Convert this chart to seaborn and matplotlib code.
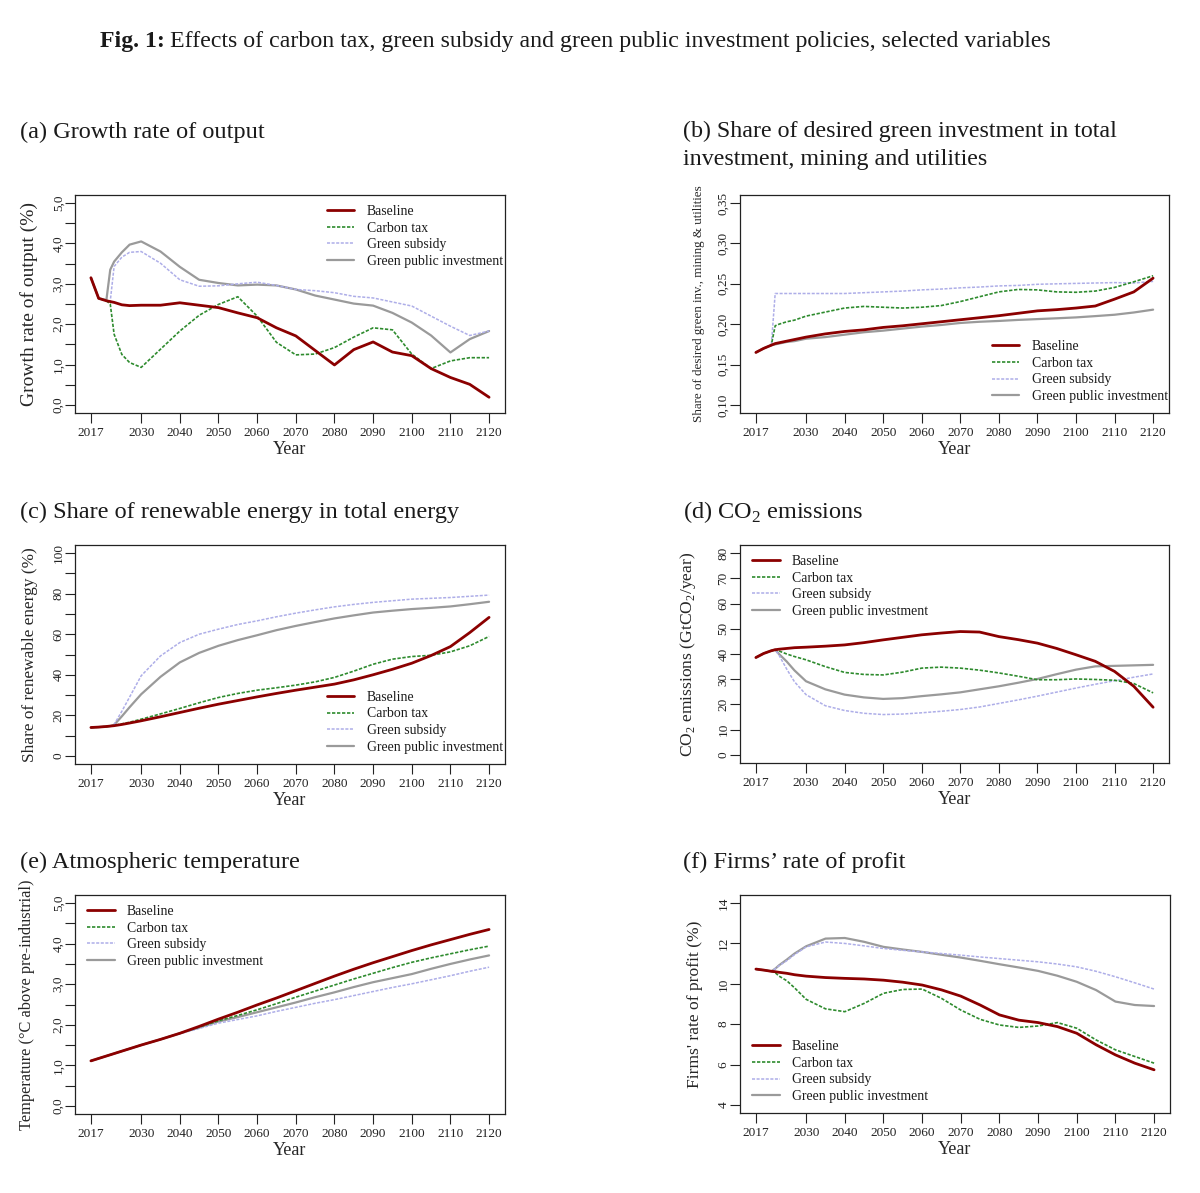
import matplotlib
matplotlib.use("Agg")
import matplotlib.pyplot as plt
import seaborn as sns

# Years sampled from the curves
years = [2017, 2019, 2021, 2022, 2023, 2025, 2027, 2030, 2035, 2040, 2045, 2050, 2055,
         2060, 2065, 2070, 2075, 2080, 2085, 2090, 2095, 2100, 2105, 2110, 2115, 2120]
year_ticks = [2017, 2030, 2040, 2050, 2060, 2070, 2080, 2090, 2100, 2110, 2120]
scenarios = ["Baseline", "Carbon tax", "Green subsidy", "Green public investment"]

# (a) growth rate of output (%)
growth_base = [3.15, 2.64, 2.58, 2.56, 2.54, 2.48, 2.46, 2.47, 2.47, 2.53, 2.47, 2.41, 2.28,
               2.16, 1.91, 1.71, 1.35, 0.99, 1.37, 1.56, 1.31, 1.22, 0.90, 0.68, 0.51, 0.19]
growth_tax = [3.15, 2.64, 2.58, 2.50, 1.75, 1.25, 1.05, 0.93, 1.38, 1.83, 2.22, 2.49, 2.68,
              2.20, 1.55, 1.24, 1.26, 1.42, 1.68, 1.91, 1.86, 1.26, 0.90, 1.09, 1.17, 1.17]
growth_sub = [3.15, 2.64, 2.58, 2.57, 3.43, 3.66, 3.78, 3.80, 3.51, 3.10, 2.94, 2.95, 3.00,
              3.04, 2.96, 2.86, 2.83, 2.78, 2.69, 2.65, 2.55, 2.45, 2.20, 1.95, 1.72, 1.83]
growth_gpi = [3.15, 2.64, 2.60, 3.35, 3.55, 3.78, 3.97, 4.05, 3.80, 3.42, 3.10, 3.02, 2.96,
              2.98, 2.96, 2.86, 2.71, 2.61, 2.51, 2.46, 2.28, 2.04, 1.72, 1.30, 1.63, 1.83]

# (b) share of desired green investment
share_base = [0.165, 0.170, 0.174, 0.176, 0.177, 0.179, 0.181, 0.184, 0.188, 0.191, 0.193, 0.196, 0.198,
              0.2005, 0.203, 0.2055, 0.208, 0.2105, 0.2135, 0.2165, 0.218, 0.220, 0.2225, 0.231, 0.240, 0.257]
share_tax = [0.165, 0.170, 0.174, 0.198, 0.200, 0.203, 0.205, 0.210, 0.215, 0.220, 0.222, 0.221, 0.220,
             0.221, 0.223, 0.228, 0.234, 0.240, 0.243, 0.2425, 0.240, 0.2395, 0.241, 0.2455, 0.2525, 0.260]
share_sub = [0.165, 0.170, 0.174, 0.238, 0.238, 0.238, 0.238, 0.238, 0.238, 0.238, 0.239, 0.240, 0.241,
             0.2425, 0.2435, 0.245, 0.246, 0.2474, 0.248, 0.2494, 0.250, 0.2505, 0.251, 0.2515, 0.251, 0.253]
share_gpi = [0.165, 0.170, 0.174, 0.175, 0.176, 0.178, 0.179, 0.182, 0.184, 0.187, 0.190, 0.192, 0.1945,
             0.197, 0.199, 0.2015, 0.203, 0.204, 0.2053, 0.2063, 0.2073, 0.2084, 0.210, 0.2117, 0.2145, 0.218]

# (c) share of renewable energy (%)
ren_base = [14.0, 14.2, 14.5, 14.7, 14.9, 15.5, 16.2, 17.3, 19.3, 21.4, 23.5, 25.5, 27.3,
            29.1, 30.8, 32.4, 33.9, 35.4, 37.5, 40.0, 42.7, 45.7, 49.5, 53.9, 60.8, 68.3]
ren_tax = [14.0, 14.2, 14.5, 14.7, 15.0, 15.8, 16.6, 18.1, 20.7, 23.4, 26.2, 28.8, 30.8,
           32.4, 33.6, 34.9, 36.5, 38.7, 41.8, 45.2, 47.7, 49.0, 49.6, 51.3, 54.3, 58.9]
ren_sub = [14.0, 14.2, 14.5, 14.7, 15.5, 22.0, 29.0, 39.5, 49.3, 55.9, 60.0, 62.5, 64.8,
           66.6, 68.6, 70.4, 72.0, 73.5, 74.7, 75.7, 76.5, 77.3, 77.7, 78.1, 78.7, 79.3]
ren_gpi = [14.0, 14.2, 14.5, 14.7, 15.3, 19.5, 24.0, 30.4, 39.0, 46.1, 50.8, 54.3, 57.1,
           59.5, 62.0, 64.1, 66.0, 67.8, 69.3, 70.7, 71.6, 72.4, 73.0, 73.7, 74.8, 76.0]

# (d) CO2 emissions (GtCO2/year)
co2_base = [38.6, 40.2, 41.3, 41.7, 41.9, 42.2, 42.5, 42.7, 43.1, 43.6, 44.5, 45.6, 46.6,
            47.6, 48.3, 48.9, 48.7, 46.9, 45.7, 44.3, 42.2, 39.7, 37.1, 33.1, 27.2, 18.9]
co2_tax = [38.6, 40.2, 41.3, 41.7, 41.2, 40.0, 39.0, 37.7, 35.0, 32.7, 31.9, 31.7, 32.8,
           34.4, 34.8, 34.4, 33.6, 32.5, 31.2, 29.8, 29.8, 30.1, 29.9, 29.6, 28.3, 24.6]
co2_sub = [38.6, 40.2, 41.3, 41.7, 39.5, 34.0, 29.0, 23.9, 19.5, 17.6, 16.5, 16.0, 16.2,
           16.7, 17.3, 18.0, 19.0, 20.4, 21.8, 23.3, 24.9, 26.5, 28.0, 29.4, 30.8, 32.1]
co2_gpi = [38.6, 40.2, 41.3, 41.7, 40.0, 37.0, 33.5, 29.2, 26.0, 23.9, 22.8, 22.2, 22.5,
           23.3, 24.0, 24.8, 26.0, 27.2, 28.6, 30.1, 32.0, 33.8, 35.1, 35.3, 35.5, 35.7]

# (e) atmospheric temperature (°C)
temp_base = [1.11, 1.17, 1.23, 1.26, 1.29, 1.35, 1.41, 1.50, 1.64, 1.79, 1.96, 2.14, 2.31,
             2.49, 2.66, 2.84, 3.02, 3.20, 3.37, 3.53, 3.68, 3.83, 3.97, 4.10, 4.23, 4.35]
temp_tax = [1.11, 1.17, 1.23, 1.26, 1.29, 1.35, 1.41, 1.50, 1.64, 1.79, 1.94, 2.10, 2.23,
            2.37, 2.52, 2.68, 2.83, 2.98, 3.13, 3.27, 3.41, 3.54, 3.65, 3.75, 3.85, 3.94]
temp_sub = [1.11, 1.17, 1.23, 1.26, 1.29, 1.35, 1.41, 1.50, 1.64, 1.78, 1.91, 2.04, 2.13,
            2.22, 2.33, 2.43, 2.53, 2.62, 2.72, 2.82, 2.92, 3.01, 3.11, 3.21, 3.32, 3.42]
temp_gpi = [1.11, 1.17, 1.23, 1.26, 1.29, 1.35, 1.41, 1.50, 1.64, 1.79, 1.93, 2.08, 2.19,
            2.31, 2.43, 2.55, 2.68, 2.80, 2.93, 3.05, 3.15, 3.25, 3.38, 3.50, 3.61, 3.71]

# (f) firms' rate of profit (%)
profit_base = [10.73, 10.68, 10.62, 10.60, 10.57, 10.52, 10.45, 10.38, 10.31, 10.27, 10.24, 10.18, 10.08,
               9.94, 9.70, 9.39, 8.95, 8.46, 8.20, 8.08, 7.88, 7.55, 6.98, 6.48, 6.07, 5.74]
profit_tax = [10.73, 10.68, 10.62, 10.55, 10.38, 10.15, 9.80, 9.23, 8.76, 8.62, 9.03, 9.53, 9.72,
              9.74, 9.28, 8.70, 8.24, 7.96, 7.84, 7.91, 8.08, 7.80, 7.22, 6.73, 6.40, 6.07]
profit_sub = [10.73, 10.68, 10.62, 10.75, 10.90, 11.15, 11.45, 11.83, 12.07, 12.00, 11.88, 11.75, 11.66,
              11.58, 11.50, 11.42, 11.33, 11.25, 11.17, 11.09, 10.98, 10.84, 10.62, 10.35, 10.05, 9.74]
profit_gpi = [10.73, 10.68, 10.62, 10.75, 10.92, 11.20, 11.50, 11.86, 12.24, 12.27, 12.08, 11.83, 11.70,
              11.58, 11.44, 11.30, 11.14, 10.97, 10.81, 10.64, 10.40, 10.10, 9.69, 9.12, 8.95, 8.90]

# Style
sns.set_style("ticks")
plt.rcParams['font.family'] = ['Liberation Serif', 'DejaVu Serif']
plt.rcParams['mathtext.fontset'] = 'custom'
plt.rcParams['mathtext.rm'] = 'Liberation Serif'
plt.rcParams['text.color'] = '#1a1a1a'

styles = {
    "Baseline": dict(color='#8b0000', linewidth=2.0, linestyle='-'),
    "Carbon tax": dict(color='#2e8b2e', linewidth=1.2, linestyle=(0, (2, 1))),
    "Green subsidy": dict(color='#aeaee8', linewidth=1.1, linestyle=(0, (2, 1))),
    "Green public investment": dict(color='#9a9a9a', linewidth=1.6, linestyle='-'),
}

W, H = 1200, 1193
fig = plt.figure(figsize=(W / 100, H / 100), dpi=100)


def add_ax(l, t, r, b):
    return fig.add_axes([l / W, 1 - b / H, (r - l) / W, (b - t) / H])


def fmt(v, nd):
    return f"{v:.{nd}f}".replace('.', ',')


def draw_panel(ax, series, ylim, yticks, ylabels, ylabel, ylabel_x, ylabel_size, leg_anchor):
    order = ["Green public investment", "Green subsidy", "Carbon tax", "Baseline"]
    for name in order:
        sns.lineplot(x=years, y=series[name], ax=ax, label=name, **styles[name])
    ax.set_xlim(2017 - 4.12, 2120 + 4.12)
    ax.set_ylim(*ylim)
    ax.set_xticks(year_ticks)
    ax.set_xticklabels([str(y) for y in year_ticks])
    ax.set_yticks(yticks)
    ax.set_yticklabels(ylabels, rotation=90, va='center')
    ax.tick_params(direction='out', length=7, width=0.8, labelsize=9.5,
                   color='#222222', labelcolor='#222222')
    ax.tick_params(axis='x', pad=3)
    ax.tick_params(axis='y', pad=0.5)
    for sp in ax.spines.values():
        sp.set_visible(True)
        sp.set_linewidth(0.9)
        sp.set_color('#222222')
    ax.set_xlabel("Year", fontsize=13, labelpad=1.5)
    ax.set_ylabel(ylabel, fontsize=ylabel_size)
    ax.yaxis.set_label_coords(ylabel_x, 0.5)
    handles, labels = ax.get_legend_handles_labels()
    lookup = dict(zip(labels, handles))
    ax.legend([lookup[s] for s in scenarios], scenarios, loc='upper left',
              bbox_to_anchor=leg_anchor, frameon=False, fontsize=9.9,
              handlelength=2.0, handletextpad=0.9, labelspacing=0.27,
              borderpad=0, borderaxespad=0)


# (a)
ax_a = add_ax(75, 195, 505, 413)
draw_panel(ax_a, dict(zip(scenarios, [growth_base, growth_tax, growth_sub, growth_gpi])),
           (-0.2, 5.2), [i * 0.5 for i in range(11)],
           [fmt(i * 0.5, 1) if i % 2 == 0 else '' for i in range(11)],
           "Growth rate of output (%)", -0.086, 14, (0.586, 0.955))

# (b)
ax_b = add_ax(740, 195, 1169, 413)
b_ticks = [0.10, 0.15, 0.20, 0.25, 0.30, 0.35]
draw_panel(ax_b, dict(zip(scenarios, [share_base, share_tax, share_sub, share_gpi])),
           (0.09, 0.36), b_ticks, [fmt(v, 2) for v in b_ticks],
           "Share of desired green inv., mining & utilities", -0.082, 9.4, (0.587, 0.335))

# (c)
ax_c = add_ax(75, 545, 505, 764)
draw_panel(ax_c, dict(zip(scenarios, [ren_base, ren_tax, ren_sub, ren_gpi])),
           (-4, 104), list(range(0, 101, 10)),
           [str(v) if v % 20 == 0 else '' for v in range(0, 101, 10)],
           "Share of renewable energy (%)", -0.086, 12.4, (0.586, 0.335))

# (d)
ax_d = add_ax(740, 545, 1169, 763)
draw_panel(ax_d, dict(zip(scenarios, [co2_base, co2_tax, co2_sub, co2_gpi])),
           (-3.2, 83.2), list(range(0, 81, 10)), [str(v) for v in range(0, 81, 10)],
           r"CO$_2$ emissions (GtCO$_2$/year)", -0.098, 12.6, (0.028, 0.955))

# (e)
ax_e = add_ax(75, 895, 505, 1114)
draw_panel(ax_e, dict(zip(scenarios, [temp_base, temp_tax, temp_sub, temp_gpi])),
           (-0.2, 5.2), [i * 0.5 for i in range(11)],
           [fmt(i * 0.5, 1) if i % 2 == 0 else '' for i in range(11)],
           "Temperature (°C above pre-industrial)", -0.093, 11.8, (0.028, 0.955))

# (f)
ax_f = add_ax(740, 895, 1170, 1113)
draw_panel(ax_f, dict(zip(scenarios, [profit_base, profit_tax, profit_sub, profit_gpi])),
           (3.6, 14.4), list(range(4, 15, 2)), [str(v) for v in range(4, 15, 2)],
           "Firms' rate of profit (%)", -0.086, 12.6, (0.028, 0.335))

# Panel titles
title_size = 17.5
fig.text(20 / W, 1 - 132 / H, "(a) Growth rate of output", fontsize=title_size, va='center')
fig.text(683 / W, 1 - 121 / H,
         "(b) Share of desired green investment in total\ninvestment, mining and utilities",
         fontsize=17.3, va='top', linespacing=1.45)
fig.text(20 / W, 1 - 512 / H, "(c) Share of renewable energy in total energy", fontsize=title_size, va='center')
fig.text(683 / W, 1 - 512 / H, r"(d) CO$_2$ emissions", fontsize=title_size, va='center')
fig.text(20 / W, 1 - 862 / H, "(e) Atmospheric temperature", fontsize=title_size, va='center')
fig.text(683 / W, 1 - 862 / H, "(f) Firms\u2019 rate of profit", fontsize=title_size, va='center')

# Figure title: bold prefix + normal text
renderer = fig.canvas.get_renderer()
t1 = fig.text(100 / W, 1 - 42 / H, "Fig. 1:", fontsize=17.2, fontweight='bold', va='center')
bb = t1.get_window_extent(renderer=renderer)
fig.text((bb.x1 + 5) / W, 1 - 42 / H,
         "Effects of carbon tax, green subsidy and green public investment policies, selected variables",
         fontsize=17.2, va='center')

fig.savefig("out.png", dpi=100)
